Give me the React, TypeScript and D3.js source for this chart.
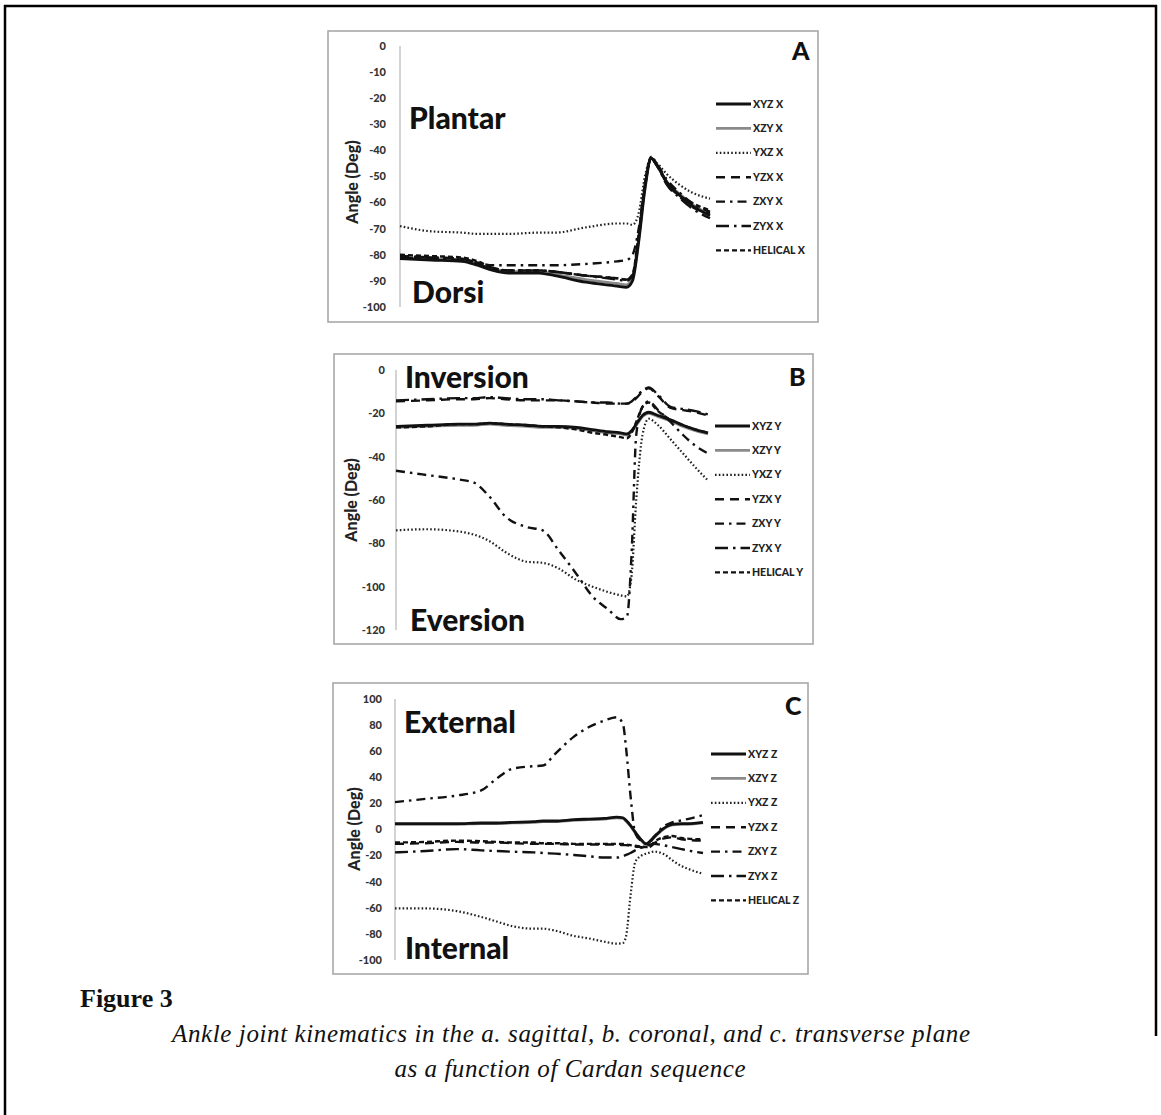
import React from 'react';
import * as d3 from 'd3';

// sequence names, legend order
const seqNames = ['XYZ', 'XZY', 'YXZ', 'YZX', 'ZXY', 'ZYX', 'HELICAL'];

// Panel A - sagittal (plantar / dorsi)
const xA = [0, 10, 20, 25, 30, 35, 45, 50, 60, 70, 73, 75, 77, 79, 81, 83, 86, 90, 94, 100];
const aXYZ = [-81.5, -82, -82.5, -84, -86, -87, -87, -88, -90.5, -92, -92.5, -90, -75, -55, -43, -46, -52, -57, -61, -65];
const aXZY = [-81, -81.5, -82, -83.5, -85.5, -86.5, -86.5, -87.5, -89.5, -91, -91.5, -89, -74, -54, -43, -46, -52, -56.5, -60.5, -64.5];
const aYXZ = [-69, -71, -71.5, -72, -72, -72, -71.5, -71.5, -69.5, -68, -68, -68.5, -64, -50, -43, -45, -49, -53, -56, -58.5];
const aYZX = [-80.5, -81, -81.5, -83, -85, -86, -86, -86.5, -88, -89, -89.5, -88, -73, -54, -43, -46, -52.5, -57.5, -61.5, -64];
const aZXY = [-80.5, -81, -81.5, -83, -84, -84, -84, -84, -83.5, -82.5, -82, -80, -70, -53, -43, -45.5, -51, -56, -60, -63.5];
const aZYX = [-81, -81.5, -82, -83.5, -85.5, -86, -86, -86.5, -88, -89.5, -90, -88, -73, -54, -43, -46, -53, -58, -62, -66];
const aHEL = [-80, -80.5, -81, -82.5, -85, -86, -86, -86.5, -88, -89, -89.5, -87.5, -72, -53, -42.5, -45.5, -52, -57, -60, -63];

// Panel B - coronal (inversion / eversion)
const xB = [0, 10, 20, 25, 30, 35, 42, 47, 52, 58, 63, 68, 72, 74, 75.5, 77, 79, 81, 84, 88, 92, 96, 100];
const bXYZ = [-26, -25.5, -25, -25, -24.5, -25, -25.5, -26, -26, -26.5, -27.5, -28.5, -29, -29.5, -28, -25, -21, -19.5, -21, -23, -25.5, -27.5, -29];
const bXZY = [-26.5, -26, -25.5, -25.5, -25, -25.5, -26, -26.5, -26.5, -27, -28, -29, -29.5, -30, -28.5, -25.5, -21.5, -20, -21.5, -23.5, -26, -28, -29.5];
const bYXZ = [-74, -73.5, -74.5, -76, -79, -84, -88.5, -89, -91.5, -97, -100, -102.5, -104, -104.5, -95, -60, -30, -22.5, -25.5, -32, -38.5, -45, -51];
const bYZX = [-14.5, -14, -13.5, -13.5, -13, -13.5, -14, -14, -14, -14.5, -15, -15.5, -15.5, -15.5, -15, -13, -10, -8.5, -12, -17.5, -18.5, -19.5, -21];
const bZXY = [-46.5, -48.5, -50.5, -52, -58.5, -67.5, -72.5, -74, -83, -94.5, -104.5, -110.5, -115, -114, -85, -30, -17, -14.5, -18.5, -24, -30, -35, -38.5];
const bZYX = [-14, -13.5, -13, -13, -12.5, -13, -13.5, -13.5, -14, -14.5, -15, -15, -15.5, -15.5, -14.5, -12.5, -9.5, -8, -11.5, -17, -18, -19, -20.5];
const bHEL = [-26.5, -26, -25, -25, -24.5, -25, -25.5, -26, -26.5, -27.5, -29, -30, -31, -31.5, -29, -24, -17, -15, -19, -23, -25.5, -27.5, -29];

// Panel C - transverse (external / internal)
const xC = [0, 10, 20, 28, 33, 38, 45, 48, 52, 58, 63, 68, 72, 74, 75, 76.5, 78, 80, 81.5, 83, 84, 87, 90, 93, 95, 100];
const cXYZ = [4.5, 4.5, 4.5, 5, 5, 5.5, 6, 6.5, 6.5, 7.5, 8, 8.5, 9.5, 9, 7, 3, -2, -8, -11, -8.5, -6, 0.5, 4, 4.5, 4.5, 5.5];
const cXZY = [4, 4, 4, 4.5, 4.5, 5, 5.5, 6, 6, 7, 7.5, 8, 9, 8.5, 6.5, 2.5, -2.5, -8.5, -11.5, -9, -6.5, 0, 3.5, 4, 4, 5];
const cYXZ = [-60.5, -60.5, -62.5, -67, -70.5, -74, -76, -76, -77.5, -81.5, -83.5, -86, -87.5, -87, -82, -50, -25, -20, -18.5, -17.5, -17, -18.5, -23.5, -28, -30, -34];
const cYZX = [-11, -10.5, -9.5, -10, -10, -10.5, -11, -11, -11, -11.5, -11.5, -11.5, -11.5, -12, -12, -12.5, -13, -13.5, -14, -13, -11, -7, -6, -7.5, -8, -8.5];
const cZXY = [21, 23.5, 26, 30, 39, 46.5, 48.5, 49, 58, 71, 78.5, 83.5, 86, 81, 63, 25, -3, -9, -11, -9, -6, 2, 5.5, 7, 8, 11];
const cZYX = [-17.5, -16.5, -15, -16, -16.5, -17, -17.5, -18, -18.5, -19.5, -20.5, -21.5, -21.5, -20.5, -19.5, -18, -16, -14, -12.5, -11.5, -11, -12, -13.5, -15, -16, -18];
const cHEL = [-10, -9.5, -8.5, -9, -9.5, -10, -10, -10.5, -10.5, -11, -11, -11, -11, -11, -11.5, -12, -12.5, -13, -13.5, -12.5, -10, -6, -5, -6.5, -7, -7.5];

const ticksA = [0, -10, -20, -30, -40, -50, -60, -70, -80, -90, -100];
const ticksB = [0, -20, -40, -60, -80, -100, -120];
const ticksC = [100, 80, 60, 40, 20, 0, -20, -40, -60, -80, -100];

const styles: Record<string, { stroke: string; width: number; dash: string | null }> = {
  XYZ: { stroke: '#111', width: 2.8, dash: null },
  XZY: { stroke: '#8a8a8a', width: 2.8, dash: null },
  YXZ: { stroke: '#222', width: 2.2, dash: '1.6 2.2' },
  YZX: { stroke: '#111', width: 2.4, dash: '9 6' },
  ZXY: { stroke: '#111', width: 2.4, dash: '9 5 2.5 5' },
  ZYX: { stroke: '#111', width: 2.4, dash: '13 5 2.5 5' },
  HELICAL: { stroke: '#111', width: 2.4, dash: '5 3' },
};
const drawOrder = ['XZY', 'HELICAL', 'YZX', 'ZYX', 'ZXY', 'YXZ', 'XYZ'];

const sansFont = 'Lato, "Liberation Sans", Arial, sans-serif';
const serifFont = '"Liberation Serif", "DejaVu Serif", serif';

const panels = [
  {
    letter: 'A', axisLetter: 'X', xs: xA, ticks: ticksA, domain: [-100, 0],
    series: { XYZ: aXYZ, XZY: aXZY, YXZ: aYXZ, YZX: aYZX, ZXY: aZXY, ZYX: aZYX, HELICAL: aHEL },
    top: 'Plantar', bottom: 'Dorsi',
    box: [328, 31, 490, 291], axisX: 400, endX: 710, yTop: 46, yBot: 307, tickRight: 386,
    labelX: 352, labelY: 182, topPos: [409, 129], botPos: [412, 303], letterPos: [792, 60],
    legX: 716, legY: 104,
  },
  {
    letter: 'B', axisLetter: 'Y', xs: xB, ticks: ticksB, domain: [-120, 0],
    series: { XYZ: bXYZ, XZY: bXZY, YXZ: bYXZ, YZX: bYZX, ZXY: bZXY, ZYX: bZYX, HELICAL: bHEL },
    top: 'Inversion', bottom: 'Eversion',
    box: [334, 354, 479, 290], axisX: 396, endX: 708, yTop: 370, yBot: 630, tickRight: 385,
    labelX: 351, labelY: 500, topPos: [405, 388], botPos: [410, 631], letterPos: [789, 386],
    legX: 715, legY: 426,
  },
  {
    letter: 'C', axisLetter: 'Z', xs: xC, ticks: ticksC, domain: [-100, 100],
    series: { XYZ: cXYZ, XZY: cXZY, YXZ: cYXZ, YZX: cYZX, ZXY: cZXY, ZYX: cZYX, HELICAL: cHEL },
    top: 'External', bottom: 'Internal',
    box: [333, 683, 475, 291], axisX: 395, endX: 703, yTop: 699, yBot: 960, tickRight: 382,
    labelX: 354, labelY: 829, topPos: [404, 733], botPos: [405, 959], letterPos: [785, 715],
    legX: 711, legY: 754,
  },
];

const Panel = ({ p }: { p: any }) => {
  const x = d3.scaleLinear().domain([0, 100]).range([p.axisX, p.endX]);
  const y = d3.scaleLinear().domain(p.domain).range([p.yBot, p.yTop]);
  const line = d3.line<number>()
    .x((_, i) => x(p.xs[i]))
    .y(d => y(d))
    .curve(d3.curveMonotoneX);
  const [bx, by, bw, bh] = p.box;
  return (
    <g>
      <rect x={bx} y={by} width={bw} height={bh} fill="#fff" stroke="#a8a8a8" strokeWidth={1.6} />
      <line x1={p.axisX} x2={p.axisX} y1={y(p.domain[1])} y2={y(p.domain[0])} stroke="#c4c4c4" strokeWidth={1.5} />
      {p.ticks.map((t: number) => (
        <text key={t} x={p.tickRight} y={y(t)} dy="0.35em" textAnchor="end"
          fontFamily={sansFont} fontWeight={900} fontSize={11} fill="#333">{t}</text>
      ))}
      <text transform={`translate(${p.labelX},${p.labelY}) rotate(-90)`} textAnchor="middle" dy="0.35em"
        fontFamily={sansFont} fontWeight={900} fontSize={16} fill="#222">Angle (Deg)</text>
      <text x={p.topPos[0]} y={p.topPos[1]} fontFamily={sansFont} fontWeight={900} fontSize={30} fill="#111">{p.top}</text>
      <text x={p.botPos[0]} y={p.botPos[1]} fontFamily={sansFont} fontWeight={900} fontSize={30} fill="#111">{p.bottom}</text>
      <text x={p.letterPos[0]} y={p.letterPos[1]} fontFamily={sansFont} fontWeight={900} fontSize={25} fill="#111">{p.letter}</text>
      {drawOrder.map(name => {
        const s = styles[name];
        return (
          <path key={name} d={line(p.series[name]) || ''} fill="none" stroke={s.stroke}
            strokeWidth={s.width} strokeDasharray={s.dash || undefined} strokeLinejoin="round" />
        );
      })}
      {seqNames.map((name, i) => {
        const s = styles[name];
        const ly = p.legY + i * 24.4;
        return (
          <g key={name}>
            <line x1={p.legX} x2={p.legX + 35} y1={ly} y2={ly} stroke={s.stroke}
              strokeWidth={s.width} strokeDasharray={s.dash || undefined} />
            <text x={p.legX + 37} y={ly} dy="0.35em" fontFamily={sansFont} fontWeight={900}
              fontSize={10.5} fill="#222">{`${name} ${p.axisLetter}`}</text>
          </g>
        );
      })}
    </g>
  );
};

export default function App() {
  return (
    <svg width={1161} height={1115} style={{ position: 'absolute', left: 0, top: 0, background: '#fff' }}>
      <rect x={0} y={0} width={1161} height={1115} fill="#fff" />
      <line x1={4} x2={1157} y1={6} y2={6} stroke="#000" strokeWidth={2.5} />
      <line x1={5} x2={5} y1={5} y2={1115} stroke="#000" strokeWidth={2.5} />
      <line x1={1156} x2={1156} y1={5} y2={1036} stroke="#000" strokeWidth={2.5} />
      {panels.map(p => <Panel key={p.letter} p={p} />)}
      <text x={80} y={1007} fontFamily={serifFont} fontWeight="bold" fontSize={26} fill="#111">Figure 3</text>
      <text x={571} y={1042} textAnchor="middle" fontFamily={serifFont}
        fontStyle="italic" fontSize={25} fill="#111" textLength={798} lengthAdjust="spacing">
        Ankle joint kinematics in the a. sagittal, b. coronal, and c. transverse plane
      </text>
      <text x={570} y={1077} textAnchor="middle" fontFamily={serifFont}
        fontStyle="italic" fontSize={25} fill="#111" textLength={351} lengthAdjust="spacing">
        as a function of Cardan sequence
      </text>
    </svg>
  );
}
